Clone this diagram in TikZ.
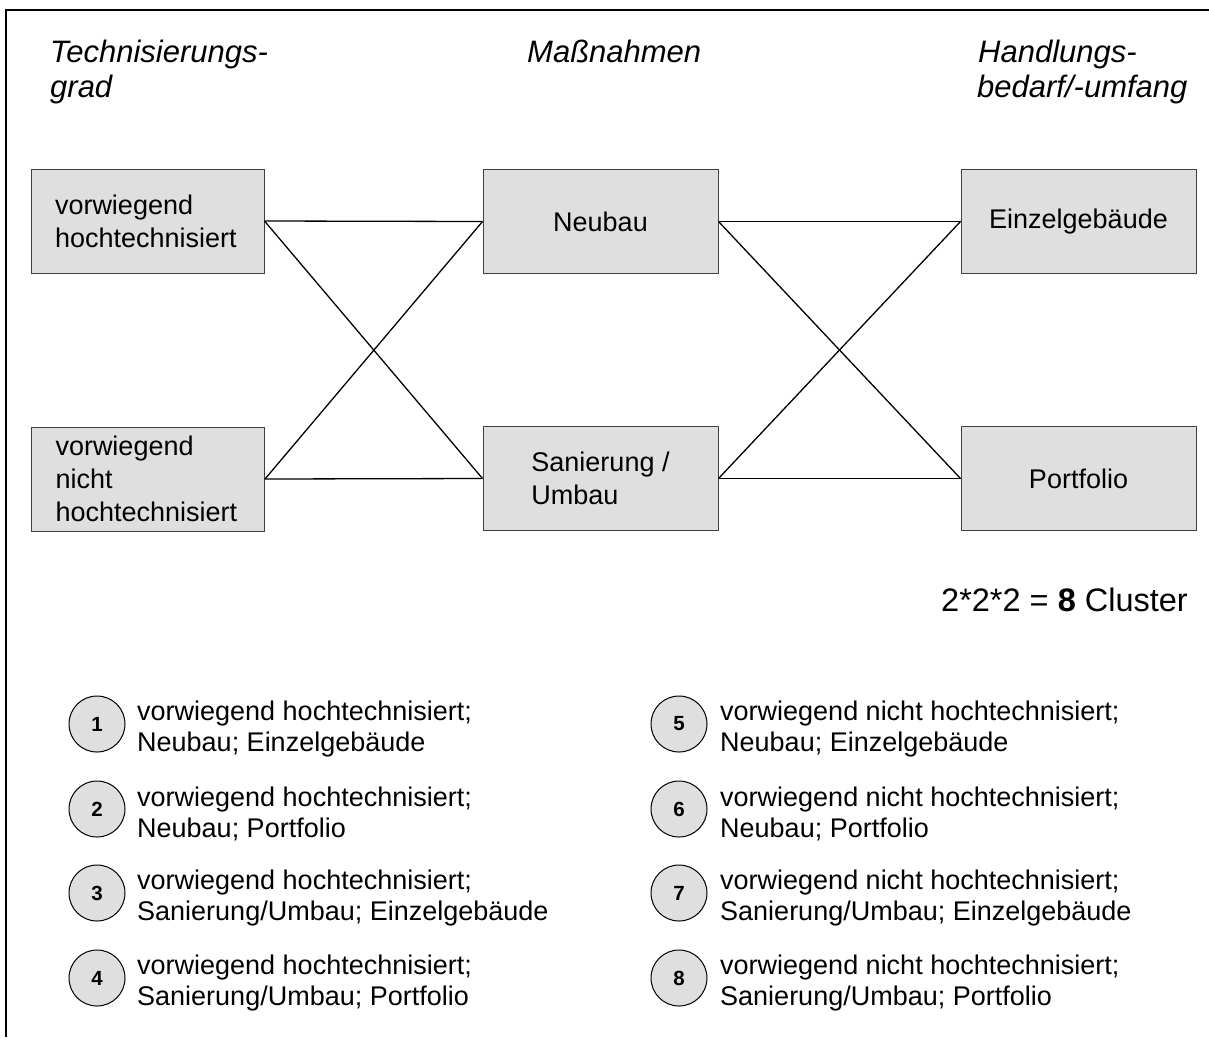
\documentclass[tikz,border=0pt]{standalone}
\usepackage{fontspec}
\setmainfont{Liberation Sans}
\begin{document}
\begin{tikzpicture}[x=1pt,y=-1pt]
\tikzset{
  boxstyle/.style={draw=black!75, line width=1pt, fill=gray!25, minimum height=104pt, inner ysep=0pt,
    font=\fontsize{27}{33}\selectfont},
  leftbox/.style={boxstyle, text width=185pt, inner xsep=24pt, align=left},
  midbox/.style={boxstyle, minimum width=235pt, inner xsep=0pt, align=left},
  titletext/.style={font=\fontsize{31}{35}\selectfont\itshape, inner sep=0pt, anchor=base west},
  numcircle/.style={circle, draw=black, line width=1pt, fill=gray!25, minimum size=56pt, inner sep=0pt,
    font=\fontsize{20.5}{22}\selectfont\bfseries},
  legendtext/.style={font=\fontsize{27}{31}\selectfont, align=left, anchor=west, inner sep=0pt},
  link/.style={line width=1.3pt, black}
}
\useasboundingbox (0,0) rectangle (1209,1037);
\draw[line width=2pt] (6,1037) -- (6,10) -- (1209,10);

% titles
\node[titletext] (t1a) at (50,62) {Technisierungs-};
\node[titletext] (t1b) at (50,97) {grad};
\node[titletext] (t2) at (527,62) {Maßnahmen};
\node[titletext] (t3a) at (978,62) {Handlungs-};
\node[titletext] (t3b) at (977,97) {bedarf/-umfang};

% boxes
\node[leftbox] (b1) at (147.5,221) {vorwiegend\\hochtechnisiert};
\node[leftbox] (b2) at (148,479) {vorwiegend\\nicht\\hochtechnisiert};
\node[midbox] (nb) at (600.5,221.5) {Neubau};
\node[midbox] (su) at (600.5,478.5) {Sanierung /\\Umbau};
\node[midbox] (ez) at (1078.5,221.5) {Einzelgebäude};
\node[midbox] (pf) at (1078.5,478.5) {Portfolio};

% links
\draw[link] (b1.east) -- (nb.west);
\draw[link] (b1.east) -- (su.west);
\draw[link] (b2.east) -- (nb.west);
\draw[link] (b2.east) -- (su.west);
\draw[link] (nb.east) -- (ez.west);
\draw[link] (nb.east) -- (pf.west);
\draw[link] (su.east) -- (ez.west);
\draw[link] (su.east) -- (pf.west);

% count
\node[font=\fontsize{32.5}{36}\selectfont, anchor=base east, inner sep=0pt] (cnt) at (1188,611) {2*2*2 = \textbf{8} Cluster};

% legend
\node[numcircle] (c1) at (97,724) {1};
\node[numcircle] (c2) at (97,809) {2};
\node[numcircle] (c3) at (97,893) {3};
\node[numcircle] (c4) at (97,978) {4};
\node[numcircle] (c5) at (679,724) {5};
\node[numcircle] (c6) at (679,809) {6};
\node[numcircle] (c7) at (679,893) {7};
\node[numcircle] (c8) at (679,978) {8};

\node[legendtext] (l1) at (137,729) {vorwiegend hochtechnisiert;\\Neubau; Einzelgebäude};
\node[legendtext] (l2) at (137,814) {vorwiegend hochtechnisiert;\\Neubau; Portfolio};
\node[legendtext] (l3) at (137,898) {vorwiegend hochtechnisiert;\\Sanierung/Umbau; Einzelgebäude};
\node[legendtext] (l4) at (137,983) {vorwiegend hochtechnisiert;\\Sanierung/Umbau; Portfolio};
\node[legendtext] (l5) at (720,729) {vorwiegend nicht hochtechnisiert;\\Neubau; Einzelgebäude};
\node[legendtext] (l6) at (720,814) {vorwiegend nicht hochtechnisiert;\\Neubau; Portfolio};
\node[legendtext] (l7) at (720,898) {vorwiegend nicht hochtechnisiert;\\Sanierung/Umbau; Einzelgebäude};
\node[legendtext] (l8) at (720,983) {vorwiegend nicht hochtechnisiert;\\Sanierung/Umbau; Portfolio};
\end{tikzpicture}
\end{document}
